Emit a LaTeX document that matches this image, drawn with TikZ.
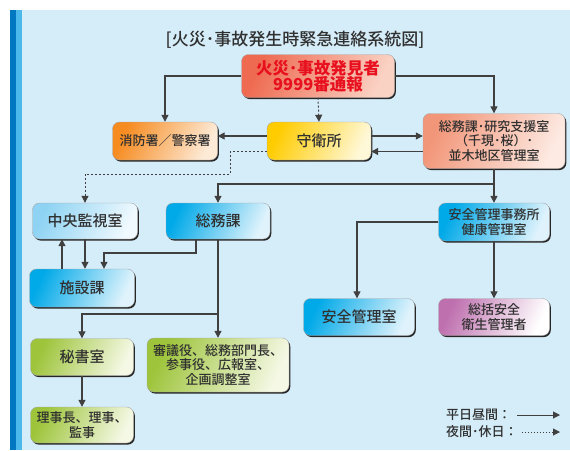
\documentclass[tikz,border=0pt]{standalone}
\usepackage{fontspec}
\setmainfont{Noto Sans CJK JP}[UprightFont=* Medium,BoldFont=* Black]
\usetikzlibrary{arrows.meta,shadows}
\definecolor{panel}{HTML}{D5EDF9}
\definecolor{stripe}{HTML}{0077C0}
\definecolor{stripelt}{HTML}{4DB8EA}
\definecolor{ink}{HTML}{303030}
\definecolor{wire}{HTML}{404040}
\definecolor{fndA}{HTML}{EE6A50}
\definecolor{fndB}{HTML}{FAD2C4}
\definecolor{fireA}{HTML}{F68B1F}
\definecolor{fireB}{HTML}{FDEBD8}
\definecolor{gateA}{HTML}{FFCC00}
\definecolor{gateB}{HTML}{FFF8D8}
\definecolor{admA}{HTML}{F29679}
\definecolor{admB}{HTML}{FDEAE2}
\definecolor{monA}{HTML}{8ED3F3}
\definecolor{monB}{HTML}{F0F9FE}
\definecolor{blueA}{HTML}{00A9E8}
\definecolor{blueB}{HTML}{E0F3FC}
\definecolor{greenA}{HTML}{9DC43A}
\definecolor{greenB}{HTML}{F4F8E4}
\definecolor{violetA}{HTML}{BE6FAE}
\definecolor{violetB}{HTML}{FFFFFF}
\definecolor{alarm}{HTML}{E8101E}
\begin{document}
\begin{tikzpicture}[x=1pt,y=-1pt,
  box/.style={rounded corners=7pt,draw=black!35,line width=0.4pt,align=center,text=ink,
    font=\fontsize{13}{14.5}\selectfont,inner sep=2pt,
    drop shadow={shadow xshift=1.3pt,shadow yshift=-1.6pt,fill=black!85,opacity=1}},
  big/.style={font=\fontsize{15}{16}\selectfont},
  tint/.style 2 args={left color=#1,right color=#2,shading angle=65},
  red box/.style={box,tint={fndA}{fndB}},
  fire box/.style={box,tint={fireA}{fireB}},
  gate box/.style={box,tint={gateA}{gateB}},
  pink box/.style={box,tint={admA}{admB}},
  pale box/.style={box,tint={monA}{monB}},
  blue box/.style={box,tint={blueA}{blueB}},
  green box/.style={box,tint={greenA}{greenB}},
  violet box/.style={box,tint={violetA}{violetB}},
  line/.style={draw=wire,line width=1.2pt,-{Triangle[length=7pt,width=7pt]}},
  dot/.style={line,line width=1pt,dash pattern=on 2pt off 2pt}]
  \useasboundingbox (0,0) rectangle (570,450);
  \fill[panel] (10,10) rectangle (570,450);
  \fill[stripe] (10,10) rectangle (16,450);
  \fill[stripelt] (16,10) rectangle (22,450);

  \node[font=\fontsize{17}{18}\selectfont,text=ink] (title) at (295,40) {[火災･事故発生時緊急連絡系統図]};

  \node[red box,minimum width=153pt,minimum height=43pt,text=alarm,
        font=\fontsize{16.5}{16.5}\selectfont\bfseries] (fnd) at (318,76) {火災･事故発見者\\9999番通報};
  \node[fire box,minimum width=105pt,minimum height=38pt] (fire) at (165,141) {消防署／警察署};
  \node[gate box,big,minimum width=104pt,minimum height=38pt] (gate) at (319,141) {守衛所};
  \node[pink box,minimum width=142pt,minimum height=55pt] (adm) at (494,141) {総務課･研究支援室\\（千現･桜）･\\並木地区管理室};
  \node[pale box,big,minimum width=105pt,minimum height=36pt] (mon) at (85,221) {中央監視室};
  \node[blue box,big,minimum width=104pt,minimum height=36pt] (gen) at (218,221) {総務課};
  \node[blue box,big,minimum width=105pt,minimum height=38pt] (fac) at (82,288) {施設課};
  \node[green box,big,minimum width=103pt,minimum height=37pt] (sec) at (82,357) {秘書室};
  \node[green box,minimum width=142pt,minimum height=54pt] (cnc) at (218,365) {審議役、総務部門長、\\参事役、広報室、\\企画調整室};
  \node[green box,minimum width=103pt,minimum height=36pt] (exe) at (82,425) {理事長、理事、\\監事};
  \node[blue box,minimum width=111pt,minimum height=38pt] (saf) at (494,222) {安全管理事務所\\健康管理室};
  \node[blue box,big,minimum width=111pt,minimum height=37pt] (sro) at (359,317) {安全管理室};
  \node[violet box,minimum width=111pt,minimum height=37pt] (ovs) at (494,317) {総括安全\\衛生管理者};

  \coordinate (d1) at (230,174);
  \coordinate (j1) at (494,184);
  \coordinate (j2) at (104,253);
  \coordinate (j3) at (218,314);
  \coordinate (u1) at (62,0);
  \coordinate (u2) at (196,0);

  \draw[line] (fnd.west) -| (fire.north);
  \draw[line] (fnd.east) -| (adm.north);
  \draw[dot] (fnd.south) -- (gate.north);
  \draw[line] ([yshift=5pt]gate.west) -- ([yshift=5pt]fire.east);
  \draw[line] ([yshift=5pt]gate.east) -- ([yshift=5pt]adm.west);
  \draw[line] ([yshift=-10.5pt]adm.west) -- ([yshift=-10.5pt]gate.east);
  \draw[dot] ([yshift=-10.5pt]gate.west) -| (d1) -| (mon.north);
  \draw[line] (adm.south) -- (saf.north);
  \draw[line] (j1) -| (gen.north);
  \draw[line] (u1 |- fac.north) -- (u1 |- mon.south);
  \draw[line] (mon.south) -- (mon.south |- fac.north);
  \draw[line] (u2 |- gen.south) |- (j2) -- (j2 |- fac.north);
  \draw[line] (gen.south) -- (cnc.north);
  \draw[line] (j3) -| (sec.north);
  \draw[line] (sec.south) -- (exe.north);
  \draw[line] (saf.west) -| ([xshift=-2pt]sro.north);
  \draw[line] (saf.south) -- (ovs.north);

  \node[anchor=west,text=ink,font=\fontsize{13}{14}\selectfont,inner sep=0pt] (day) at (446,415) {平日昼間：};
  \node[anchor=west,text=ink,font=\fontsize{13}{14}\selectfont,inner sep=0pt] (night) at (446,432) {夜間･休日：};
  \coordinate (e1) at (560,415);
  \coordinate (e2) at (560,432);
  \draw[line,line width=1pt] ([xshift=6pt]day.east) -- (e1);
  \draw[dot,dash pattern=on 1.5pt off 1.5pt] ([xshift=4pt]night.east) -- (e2);
\end{tikzpicture}
\end{document}
